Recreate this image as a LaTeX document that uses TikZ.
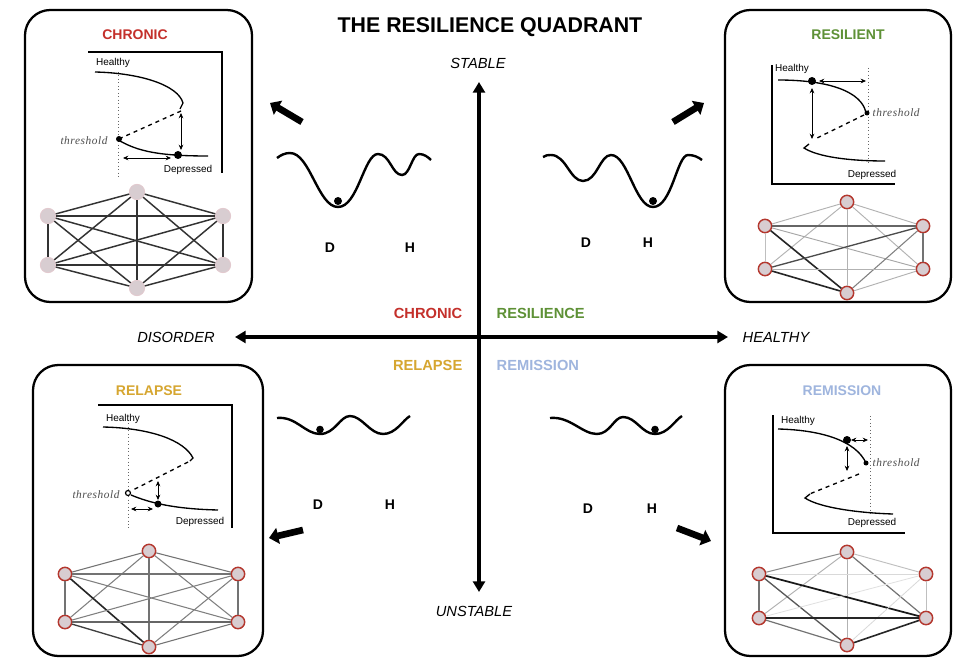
\documentclass[tikz,border=0pt]{standalone}
\usepackage{fontspec}
\setmainfont{Liberation Sans}
\newfontfamily\thfont{Liberation Serif}[LetterSpace=5]
\usetikzlibrary{arrows.meta}
\definecolor{chronred}{HTML}{C4302B}
\definecolor{resgreen}{HTML}{5E9136}
\definecolor{relgold}{HTML}{D6A630}
\definecolor{remblue}{HTML}{9FB5DE}
\definecolor{nodefill}{HTML}{D8CDD1}
\definecolor{nodered}{HTML}{B4372E}
\definecolor{nodepink}{HTML}{E2C9CE}
\begin{document}
\begin{tikzpicture}[x=0.75pt,y=-0.75pt,
  panel/.style={draw=black, line width=1.7pt, rounded corners=19pt},
  paneltitle/.style={font=\bfseries\fontsize{10.5}{12}\selectfont},
  quadlabel/.style={font=\bfseries\fontsize{11}{13}\selectfont},
  axislabel/.style={font=\itshape\fontsize{11}{13}\selectfont},
  mainaxis/.style={line width=2.4pt, {Triangle[length=8pt,width=9pt]}-{Triangle[length=8pt,width=9pt]}},
  bigarrow/.style={line width=5pt, -{Triangle[length=7pt,width=12pt]}},
  wellline/.style={line width=1.8pt},
  letter/.style={font=\bfseries\fontsize{10.5}{12}\selectfont},
  frameline/.style={line width=1.2pt},
  thresholdline/.style={dotted, line width=0.6pt, black!60},
  branch/.style={line width=1pt},
  twoway/.style={line width=0.6pt, {Stealth[length=4pt,width=3.5pt]}-{Stealth[length=4pt,width=3.5pt]}},
  smalltext/.style={font=\fontsize{7.5}{9}\selectfont},
  thlabel/.style={font=\thfont\itshape\fontsize{8.5}{10}\selectfont, text=black!70},
  netnode/.style={circle, fill=nodefill, draw=nodered, line width=1.1pt, minimum size=10pt, inner sep=0pt},
  palenode/.style={circle, fill=nodefill, draw=nodepink, line width=0.6pt, minimum size=11.5pt, inner sep=0pt}
]
\useasboundingbox (0,0) rectangle (955,659);
\fill[white] (0,0) rectangle (955,659);

% ---------- title and axes ----------
\node[font=\bfseries\fontsize{16}{18}\selectfont] (title) at (490,27) {THE RESILIENCE QUADRANT};
\node[axislabel] (stable) at (478,63) {STABLE};
\node[axislabel] (unstable) at (474,611) {UNSTABLE};
\node[axislabel] (disorder) at (176,337) {DISORDER};
\node[axislabel] (healthy) at (776,337) {HEALTHY};
\coordinate (axtop) at (479,82);
\coordinate (axbot) at (479,592);
\coordinate (axleft) at (235,337);
\coordinate (axright) at (728,337);
\draw[mainaxis] (axbot) -- (axtop);
\draw[mainaxis] (axleft) -- (axright);

\node[quadlabel, text=chronred, anchor=east] (qchronic) at (467,313) {CHRONIC};
\node[quadlabel, text=resgreen, anchor=west] (qresilience) at (492,313) {RESILIENCE};
\node[quadlabel, text=relgold, anchor=east] (qrelapse) at (467,365) {RELAPSE};
\node[quadlabel, text=remblue, anchor=west] (qremission) at (492,365) {REMISSION};

% ---------- potential landscapes ----------
\draw[wellline] (277,158) .. controls (281,155) and (285,153) .. (290,153)
  .. controls (310,153) and (318,207) .. (338,207)
  .. controls (358,207) and (364,154) .. (378,154)
  .. controls (390,154) and (392,175) .. (402,175)
  .. controls (410,175) and (412,154) .. (419,154)
  .. controls (424,154) and (428,157) .. (431,160);
\fill (338,201) circle (4);
\node[letter] (d1) at (330,248) {D};
\node[letter] (h1) at (410,248) {H};

\draw[wellline] (543,157) .. controls (546,155) and (548,155) .. (551,155)
  .. controls (566,155) and (570,181) .. (583,181)
  .. controls (597,181) and (600,155) .. (611,155)
  .. controls (628,155) and (635,207) .. (653,207)
  .. controls (672,207) and (677,155) .. (688,155)
  .. controls (694,155) and (698,157) .. (702,160);
\fill (653,201) circle (4);
\node[letter] (d2) at (586,243) {D};
\node[letter] (h2) at (648,243) {H};

\draw[wellline] (277,418) .. controls (296,416) and (305,434) .. (320,434)
  .. controls (335,434) and (340,416) .. (350,416)
  .. controls (362,416) and (370,434) .. (383,434)
  .. controls (396,434) and (403,420) .. (410,416);
\fill (320,429.5) circle (3.8);
\node[letter] (d3) at (318,505) {D};
\node[letter] (h3) at (390,505) {H};

\draw[wellline] (550,418) .. controls (570,416) and (582,434) .. (597,434)
  .. controls (610,434) and (614,417) .. (623,417)
  .. controls (636,417) and (642,434) .. (655,434)
  .. controls (668,434) and (675,420) .. (682,416);
\fill (655,429.5) circle (3.8);
\node[letter] (d4) at (588,509) {D};
\node[letter] (h4) at (652,509) {H};

% ---------- heavy arrows towards the panels ----------
\coordinate (ba1s) at (302,122); \coordinate (ba1e) at (270,103);
\coordinate (ba2s) at (673,122); \coordinate (ba2e) at (704,103);
\coordinate (ba3s) at (303,530); \coordinate (ba3e) at (269,538);
\coordinate (ba4s) at (677,528); \coordinate (ba4e) at (711,541);
\draw[bigarrow] (ba1s) -- (ba1e);
\draw[bigarrow] (ba2s) -- (ba2e);
\draw[bigarrow] (ba3s) -- (ba3e);
\draw[bigarrow] (ba4s) -- (ba4e);

% ---------- panels ----------
\draw[panel] (25,10) rectangle (252,302);
\draw[panel] (725,10) rectangle (951,302);
\draw[panel] (33,365) rectangle (263,656);
\draw[panel] (725,365) rectangle (951,656);

\node[paneltitle, text=chronred] (tchronic) at (135,35) {CHRONIC};
\node[paneltitle, text=resgreen] (tresilient) at (848,35) {RESILIENT};
\node[paneltitle, text=relgold] (trelapse) at (149,391) {RELAPSE};
\node[paneltitle, text=remblue] (tremission) at (842,391) {REMISSION};

% ---------- chronic bifurcation diagram ----------
\draw[frameline] (88,52) -- (222,52) -- (222,173);
\draw[thresholdline] (118,72) -- (118,177);
\draw[branch] (95,72) .. controls (140,73) and (178,85) .. (183,103) -- (180,109);
\draw[branch, dashed] (181,111) -- (121,138);
\draw[branch] (120,141) .. controls (138,151) and (158,156) .. (208,156);
\fill (119,139) circle (3);
\fill (178,155) circle (4);
\draw[twoway] (181,113) -- (181,150);
\draw[twoway] (123,158) -- (171,158);
\node[smalltext] (chh) at (113,63) {Healthy};
\node[thlabel] (cht) at (84,141) {threshold};
\node[smalltext] (chd) at (188,170) {Depressed};

% ---------- resilient bifurcation diagram ----------
\draw[frameline] (772,65) -- (772,184) -- (895,184);
\draw[thresholdline] (868,68) -- (868,162);
\draw[branch] (778,80) .. controls (830,80) and (862,92) .. (866,113);
\draw[branch, dashed] (864,115) -- (815,139);
\draw[branch] (809,144) -- (804,148) .. controls (818,157) and (850,161) .. (885,161);
\fill (812,81) circle (4);
\fill (867,113) circle (2.5);
\draw[twoway] (819,81) -- (866,81);
\draw[twoway] (812,88) -- (812,139);
\node[smalltext] (rsh) at (792,69) {Healthy};
\node[thlabel, anchor=west] (rst) at (868,113) {threshold};
\node[smalltext] (rsd) at (872,175) {Depressed};

% ---------- relapse bifurcation diagram ----------
\draw[frameline] (98,405) -- (232,405) -- (232,528);
\draw[thresholdline] (128,420) -- (128,528);
\draw[branch] (103,427) .. controls (150,428) and (184,440) .. (193,458) -- (190,461);
\draw[branch, dashed] (188,462) -- (131,491);
\draw[branch] (131,495) .. controls (150,503) and (175,509) .. (218,510);
\draw[fill=white, line width=0.9pt] (128,493) circle (2.5);
\fill (158,504) circle (3.5);
\draw[twoway] (158,481) -- (158,500);
\draw[twoway] (131,509) -- (153,509);
\node[smalltext] (rlh) at (123,419) {Healthy};
\node[thlabel] (rlt) at (96,495) {threshold};
\node[smalltext] (rld) at (200,522) {Depressed};

% ---------- remission bifurcation diagram ----------
\draw[frameline] (773,415) -- (773,533) -- (905,533);
\draw[thresholdline] (870,416) -- (870,514);
\draw[branch] (778,429) .. controls (822,430) and (856,441) .. (866,463);
\draw[branch, dashed] (859,474) -- (807,495);
\draw[branch] (810,494) -- (805,498) .. controls (820,508) and (860,513) .. (893,514);
\fill (847,440) circle (4);
\fill (866,463) circle (2.5);
\draw[twoway] (851,440) -- (868,440);
\draw[twoway] (847,446) -- (847,471);
\node[smalltext] (rmh) at (798,421) {Healthy};
\node[thlabel, anchor=west] (rmt) at (868,463) {threshold};
\node[smalltext] (rmd) at (872,523) {Depressed};

% ---------- networks ----------
% chronic: uniformly strong couplings
\foreach \n/\p in {1/{(137,192)},2/{(48,216)},3/{(223,216)},4/{(48,265)},5/{(223,265)},6/{(137,288)}}
  \node[palenode] (c\n) at \p {};
\foreach \a/\b in {1/2,1/3,1/4,1/5,1/6,2/3,2/4,2/5,2/6,3/4,3/5,3/6,4/5,4/6,5/6}
  \draw[line width=1.1pt, black!80] (c\a) -- (c\b);

% resilient
\foreach \n/\p in {1/{(847,202)},2/{(765,226)},3/{(923,226)},4/{(765,269)},5/{(923,269)},6/{(847,293)}}
  \node[netnode] (s\n) at \p {};
\foreach \a/\b/\g/\w in {1/2/30/0.7,1/3/30/0.7,1/4/30/0.7,1/5/30/0.7,1/6/30/0.7,
    2/3/60/0.9,2/4/25/0.7,2/5/35/0.7,2/6/85/1.2,
    3/4/70/1.0,3/5/55/0.9,3/6/50/0.8,
    4/5/30/0.7,4/6/85/1.2,5/6/30/0.7}
  \draw[line width=\w pt, black!\g] (s\a) -- (s\b);

% relapse
\foreach \n/\p in {1/{(149,551)},2/{(65,574)},3/{(238,574)},4/{(65,622)},5/{(238,622)},6/{(149,647)}}
  \node[netnode] (l\n) at \p {};
\foreach \a/\b/\g/\w in {1/2/55/0.8,1/3/55/0.8,1/4/50/0.8,1/5/50/0.8,1/6/55/0.8,
    2/3/55/0.8,2/4/55/0.8,2/5/50/0.8,2/6/85/1.2,
    3/4/50/0.8,3/5/55/0.8,3/6/50/0.8,
    4/5/60/0.9,4/6/75/1.0,5/6/55/0.8}
  \draw[line width=\w pt, black!\g] (l\a) -- (l\b);

% remission
\foreach \n/\p in {1/{(847,552)},2/{(759,574)},3/{(926,574)},4/{(759,618)},5/{(926,618)},6/{(847,645)}}
  \node[netnode] (m\n) at \p {};
\foreach \a/\b/\g/\w in {1/2/45/0.8,1/3/25/0.7,1/4/30/0.7,1/5/55/0.9,1/6/30/0.7,
    2/3/15/0.6,2/4/55/0.9,2/5/90/1.3,2/6/65/1.0,
    3/4/12/0.6,3/5/25/0.7,3/6/15/0.6,
    4/5/85/1.2,4/6/55/0.9,5/6/85/1.2}
  \draw[line width=\w pt, black!\g] (m\a) -- (m\b);
\end{tikzpicture}
\end{document}
